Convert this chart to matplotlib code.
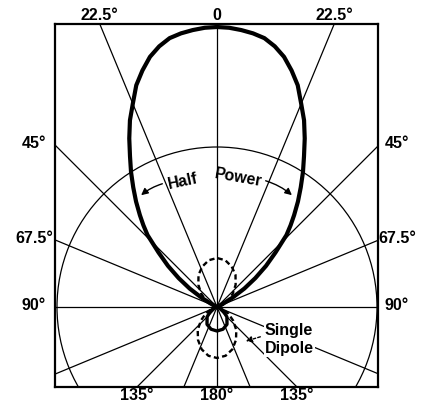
import numpy as np
import matplotlib
matplotlib.use("Agg")
import matplotlib.pyplot as plt
from matplotlib.patches import Circle

# ---- data (radius in chart units, max lobe = 280) ----
grid_angles = [0, 22.5, 45, 67.5, 90, 112.5, 135, 157.5,
               180, 202.5, 225, 247.5, 270, 292.5, 315, 337.5]
ref_circle_r = 160

# main lobe (one side, symmetric), angle from forward direction in degrees
lobe_theta = [0, 2.5, 5, 7.5, 10, 12.5, 15, 17.5, 20, 22.5, 25, 27.5, 30, 32.5,
              35, 37.5, 40, 42, 44, 47, 50, 53, 56, 59, 62, 64]
lobe_r     = [280, 279.5, 278, 276, 273, 267, 259, 248, 236, 220, 206, 190, 174, 160,
              146, 133, 120, 110, 100, 80, 64, 48, 33, 18, 6, 0]

# small back lobe (angle measured from the backward direction)
back_phi = [0, 15, 30, 45, 60, 75, 90]
back_r   = [24, 23, 20, 14, 7, 2, 0]

# single dipole pattern (dashed), same shape forward and backward
dip_phi   = [0, 10, 20, 30, 40, 50, 60, 70, 80, 90]
dip_front = [49, 47.5, 43, 37, 29, 20.5, 12.5, 6, 1.5, 0]
dip_back  = [51, 49.5, 45, 38, 30, 21, 13, 6, 1.5, 0]

top_labels    = [(-22.5, "22.5°"), (0, "0"), (22.5, "22.5°")]
side_labels   = [(45, "45°"), (67.5, "67.5°"), (90, "90°")]
bottom_labels = [(135, "135°"), (180, "180°"), (225, "135°")]

# ---- figure ----
W, H = 423, 403
fig = plt.figure(figsize=(W / 100, H / 100), dpi=100)
cx, cy = 217, 307          # pattern centre in pixels
left, right, top, bottom = 55, 378, 24, 387
ax = fig.add_axes([left / W, 1 - bottom / H, (right - left) / W, (bottom - top) / H])
ax.set_xlim(left - cx, right - cx)
ax.set_ylim(cy - bottom, cy - top)
ax.set_xticks([]); ax.set_yticks([])
for s in ax.spines.values():
    s.set_linewidth(1.6)

def pol(theta_deg, r):
    t = np.radians(np.asarray(theta_deg, dtype=float))
    r = np.asarray(r, dtype=float)
    return r * np.sin(t), r * np.cos(t)

# radial grid lines
for a in grid_angles:
    x, y = pol([a, a], [0, 800])
    ax.plot(x, y, color="black", lw=0.9, zorder=1)

ax.add_patch(Circle((0, 0), ref_circle_r, fill=False, lw=0.9, color="black", zorder=1))

# main lobe
th = np.array(lobe_theta, dtype=float)
rr = np.array(lobe_r, dtype=float)
full_t = np.concatenate([-th[::-1], th[1:]])
full_r = np.concatenate([rr[::-1], rr[1:]])
x, y = pol(full_t, full_r)
ax.plot(x, y, color="black", lw=3.0, solid_joinstyle="round", zorder=3)

# back lobe
ph = np.array(back_phi, dtype=float)
br = np.array(back_r, dtype=float)
bt = np.concatenate([180 - ph[::-1], 180 + ph[1:]])
bR = np.concatenate([br[::-1], br[1:]])
x, y = pol(bt, bR)
ax.plot(x, y, color="black", lw=2.4, zorder=3)

# dipole (dashed)
dp = np.array(dip_phi, dtype=float)
for base, vals in ((0, dip_front), (180, dip_back)):
    v = np.array(vals, dtype=float)
    t = np.concatenate([base - dp[::-1], base + dp[1:]])
    r = np.concatenate([v[::-1], v[1:]])
    x, y = pol(t, r)
    ax.plot(x, y, color="black", lw=1.7, linestyle=(0, (2.2, 1.4)), zorder=2)

# angle labels
fkw = dict(family="Liberation Sans", fontweight="bold", fontsize=11.5,
           ha="center", va="center", clip_on=False)
for a, s in top_labels:
    x = np.tan(np.radians(a)) * (cy - top)
    ax.text(x, cy - 16, s, **fkw)
for a, s in side_labels:
    yy = (cx - left) / np.tan(np.radians(a)) if a != 90 else 0
    ax.text(left - 21 - cx, yy + 1, s, **fkw)
    ax.text(right + 19 - cx, yy + 1, s, **fkw)
for a, s in bottom_labels:
    x = -np.tan(np.radians(a)) * (bottom - cy) if a != 180 else 0
    ax.text(x, cy - 396, s, **fkw)

# Half Power annotation
tkw = dict(family="Liberation Sans", fontweight="bold", fontsize=11.5,
           ha="center", va="center", zorder=5)
ax.text(-34, 126, "Half", rotation=12, **tkw)
ax.text(21, 129, "Power", rotation=-10, **tkw)
ax.annotate("", xy=(-78, 110), xytext=(-52, 124),
            arrowprops=dict(arrowstyle="-|>", color="black", lw=1.0,
                            mutation_scale=10, connectionstyle="arc3,rad=0.12"))
ax.annotate("", xy=(77, 110), xytext=(46, 127),
            arrowprops=dict(arrowstyle="-|>", color="black", lw=1.0,
                            mutation_scale=10, connectionstyle="arc3,rad=-0.12"))

# Single Dipole label
bkw = dict(family="Liberation Sans", fontweight="bold", fontsize=11.5,
           ha="left", va="center", zorder=5,
           bbox=dict(facecolor="white", edgecolor="none", pad=1.0))
ax.text(48, -24, "Single", **bkw)
ax.text(48, -41, "Dipole", **bkw)
ax.annotate("", xy=(26, -35), xytext=(46, -29),
            arrowprops=dict(arrowstyle="-|>", color="black", lw=1.0,
                            linestyle=(0, (2, 1.5)), mutation_scale=9))

fig.savefig("out.png", dpi=100)
